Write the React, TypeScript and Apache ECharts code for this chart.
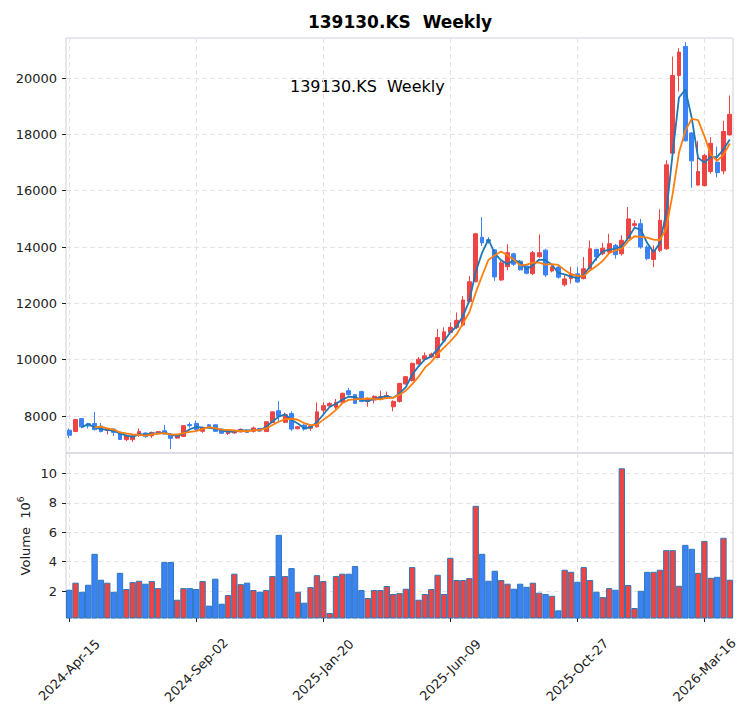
import React, { useEffect, useRef } from 'react';
import * as echarts from 'echarts';

const TITLE = '139130.KS  Weekly';
const START_YEAR = 2024;
const START_MONTH = 3; // April (0-based)
const START_DAY = 15;
const WEEK_COUNT = 105;
const MONTHS = ['Jan', 'Feb', 'Mar', 'Apr', 'May', 'Jun', 'Jul', 'Aug', 'Sep', 'Oct', 'Nov', 'Dec'];

const opens = [
  7500, 7455, 7910, 7730, 7735, 7645, 7490, 7540, 7430, 7165,
  7165, 7320, 7400, 7300, 7380, 7480, 7360, 7220, 7280, 7700,
  7740, 7460, 7690, 7690, 7540, 7380, 7400, 7440, 7510, 7460,
  7560, 7450, 7770, 8190, 7780, 8090, 7550, 7680, 7570, 7620,
  8210, 8360, 8310, 8490, 8900, 8760, 8870, 8520, 8570, 8610,
  8640, 8330, 8520, 9140, 9260, 9850, 10020, 10100, 10080, 10670,
  10970, 11150, 11230, 12070, 12770, 14350, 14260, 13900, 12830, 13300,
  13760, 13500, 13330, 13060, 13660, 13890, 13150, 13290, 12660, 12880,
  13050, 12880, 13230, 13920, 13760, 13820, 14060, 13760, 14300, 14770,
  14830, 14000, 13560, 13880, 13940, 17330, 20090, 21120, 18050, 16200,
  16180, 16680, 17010, 16700, 17980,
];

const closes = [
  7320, 7880, 7620, 7650, 7520, 7455, 7560, 7420, 7170, 7320,
  7300, 7450, 7280, 7420, 7450, 7360, 7210, 7290, 7660, 7660,
  7520, 7600, 7620, 7460, 7390, 7480, 7490, 7530, 7420, 7580,
  7470, 7800, 8150, 7990, 8050, 7540, 7620, 7540, 7650, 8150,
  8370, 8450, 8490, 8810, 8760, 8450, 8520, 8610, 8700, 8690,
  8730, 8520, 9160, 9400, 9870, 10020, 10140, 10200, 10790, 10990,
  11150, 11400, 12120, 12770, 14470, 14150, 14210, 12940, 13440, 13800,
  13390, 13190, 13070, 13800, 13800, 13010, 13300, 12930, 12870, 13050,
  12760, 13230, 13940, 13650, 13960, 14120, 13730, 14240, 15000, 14830,
  14000, 13590, 13880, 14950, 16920, 20090, 20920, 17770, 17060, 16680,
  17250, 17680, 16640, 18100, 18710,
];

const lows = [
  7220, 7430, 7570, 7560, 7490, 7420, 7350, 7300, 7150, 7110,
  7080, 7260, 7230, 7230, 7370, 7350, 6830, 7200, 7270, 7590,
  7480, 7410, 7600, 7440, 7370, 7330, 7380, 7420, 7400, 7420,
  7450, 7440, 7760, 7830, 7750, 7480, 7540, 7480, 7480, 7600,
  8060, 8340, 8250, 8480, 8730, 8440, 8490, 8330, 8450, 8560,
  8600, 8170, 8480, 9120, 9230, 9820, 9990, 10060, 10050, 10620,
  10940, 11090, 11180, 12030, 12750, 14040, 14120, 12800, 12800, 13180,
  13330, 13170, 13030, 13010, 13620, 12940, 13100, 12880, 12600, 12700,
  12730, 12850, 13210, 13510, 13710, 13760, 13590, 13700, 14240, 14650,
  13940, 13530, 13290, 13820, 13900, 17270, 19520, 17750, 16110, 16170,
  16150, 16600, 16470, 16580, 17960,
];

const highs = [
  7560, 7880, 7920, 7760, 8150, 7760, 7580, 7560, 7450, 7330,
  7330, 7560, 7420, 7450, 7470, 7690, 7370, 7300, 7680, 7780,
  7840, 7620, 7720, 7700, 7560, 7500, 7520, 7560, 7530, 7630,
  7580, 7820, 8160, 8530, 8120, 8170, 7640, 7710, 7710, 8490,
  8490, 8490, 8610, 8830, 9000, 8770, 8900, 8660, 8740, 8900,
  8870, 8560, 9180, 9420, 9900, 10100, 10260, 10250, 11090, 11150,
  11320, 11680, 12260, 12970, 14500, 15060, 14350, 13920, 13500, 14100,
  13800, 13540, 13360, 13860, 14450, 13940, 13350, 13320, 13000, 13300,
  13290, 13650, 14230, 13930, 14150, 14470, 14110, 14420, 15420, 14950,
  15000, 14060, 14060, 15340, 17080, 20760, 21060, 21270, 18080, 17770,
  17300, 17900, 17570, 18480, 19380,
];

// weekly volume, in millions of shares
const volumes = [
  2.09, 2.57, 1.95, 2.43, 4.53, 2.77, 2.57, 1.95, 3.24, 2.14,
  2.61, 2.70, 2.50, 2.68, 2.20, 3.97, 3.97, 1.41, 2.20, 2.20,
  2.14, 2.68, 1.01, 2.84, 1.14, 1.73, 3.18, 2.47, 2.57, 2.07,
  1.95, 2.07, 3.02, 5.82, 3.02, 3.56, 1.95, 1.21, 2.27, 3.08,
  2.68, 0.51, 3.02, 3.18, 3.18, 3.70, 2.07, 1.53, 2.07, 2.07,
  2.34, 1.80, 1.86, 2.16, 3.63, 1.41, 1.80, 2.14, 3.11, 1.80,
  4.26, 2.75, 2.75, 2.88, 7.79, 4.53, 2.70, 3.38, 2.75, 2.50,
  2.16, 2.50, 2.29, 2.57, 1.89, 1.80, 1.68, 0.69, 3.45, 3.31,
  2.63, 3.63, 2.75, 1.95, 1.59, 2.20, 2.09, 10.34, 2.41, 0.85,
  2.02, 3.31, 3.31, 3.45, 4.78, 4.78, 2.36, 5.14, 4.87, 3.24,
  5.41, 2.90, 2.97, 5.62, 2.77,
];

const PRICE_TICKS = [8000, 10000, 12000, 14000, 16000, 18000, 20000];
const VOLUME_TICKS = [2, 4, 6, 8, 10];
const PRICE_MIN = 6690;
const PRICE_MAX = 21420;
const VOLUME_MIN = 0.17;
const VOLUME_MAX = 11.38;
const MA_SHORT = 3;
const MA_LONG = 5;

const UP = '#ef4444';
const DOWN = '#3b82f6';
const FONT = '"DejaVu Sans", "Liberation Sans", sans-serif';

function buildDates(): string[] {
  const base = Date.UTC(START_YEAR, START_MONTH, START_DAY);
  const out: string[] = [];
  for (let i = 0; i < WEEK_COUNT; i++) {
    const d = new Date(base + i * 7 * 86400000);
    const dd = String(d.getUTCDate()).padStart(2, '0');
    out.push(`${d.getUTCFullYear()}-${MONTHS[d.getUTCMonth()]}-${dd}`);
  }
  return out;
}

function movingAverage(values: number[], n: number): (number | string)[] {
  return values.map((_, i) => {
    if (i < n - 1) return '-';
    let s = 0;
    for (let k = i - n + 1; k <= i; k++) s += values[k];
    return Math.round((s / n) * 100) / 100;
  });
}

function buildOption() {
  const dates = buildDates();
  const candles = opens.map((o, i) => [o, closes[i], lows[i], highs[i]]);
  const volData = volumes.map((v, i) => ({
    value: v,
    itemStyle: { color: closes[i] >= opens[i] ? UP : DOWN },
  }));
  const gridLine = {
    show: true,
    lineStyle: { color: '#e3e3e3', type: [5, 3], width: 1 },
  };
  const axisText = { fontFamily: FONT, fontSize: 13, color: '#222' };
  const plain = (v: number) => String(v);
  const frame = {
    show: true,
    borderColor: '#cfd1da',
    borderWidth: 1,
    backgroundColor: 'transparent',
  };
  return {
    animation: false,
    backgroundColor: '#ffffff',
    grid: [
      { left: 66, top: 38, width: 667, height: 415, ...frame },
      { left: 66, top: 453, width: 667, height: 165, ...frame },
    ],
    xAxis: [
      {
        type: 'category',
        gridIndex: 0,
        data: dates,
        boundaryGap: true,
        axisLine: { show: false },
        axisTick: { show: false, interval: 19, alignWithLabel: true },
        axisLabel: { show: false, interval: 19 },
        splitLine: { ...gridLine, interval: 19, alignWithLabel: true },
      },
      {
        type: 'category',
        gridIndex: 1,
        data: dates,
        boundaryGap: true,
        axisLine: { show: false },
        axisTick: {
          show: true,
          interval: 19,
          alignWithLabel: true,
          length: 4,
          lineStyle: { color: '#222' },
        },
        axisLabel: {
          ...axisText,
          interval: 19,
          rotate: 45,
          align: 'center',
          verticalAlign: 'middle',
          margin: 52,
        },
        splitLine: { ...gridLine, interval: 19, alignWithLabel: true },
      },
    ],
    yAxis: [
      {
        type: 'value',
        gridIndex: 0,
        min: PRICE_MIN,
        max: PRICE_MAX,
        axisLine: { show: false },
        axisTick: {
          show: true,
          length: 4,
          customValues: PRICE_TICKS,
          lineStyle: { color: '#222' },
        },
        axisLabel: { ...axisText, customValues: PRICE_TICKS, margin: 9, formatter: plain },
        splitLine: gridLine,
      },
      {
        type: 'value',
        gridIndex: 1,
        min: VOLUME_MIN,
        max: VOLUME_MAX,
        axisLine: { show: false },
        axisTick: {
          show: true,
          length: 4,
          customValues: VOLUME_TICKS,
          lineStyle: { color: '#222' },
        },
        axisLabel: { ...axisText, customValues: VOLUME_TICKS, margin: 9, formatter: plain },
        splitLine: gridLine,
      },
    ],
    graphic: [
      {
        type: 'text',
        x: 400,
        y: 22,
        style: {
          text: TITLE,
          font: `bold 17px ${FONT}`,
          fill: '#000',
          align: 'center',
          verticalAlign: 'middle',
        },
      },
      {
        type: 'text',
        x: 290,
        y: 86,
        style: {
          text: TITLE,
          font: `16px ${FONT}`,
          fill: '#000',
          align: 'left',
          verticalAlign: 'middle',
        },
      },
      {
        type: 'text',
        x: 25,
        y: 536,
        rotation: Math.PI / 2,
        style: {
          text: '{a|Volume  10}{b|6}',
          align: 'center',
          verticalAlign: 'middle',
          rich: {
            a: { fontFamily: FONT, fontSize: 13, fill: '#222', lineHeight: 18 },
            b: { fontFamily: FONT, fontSize: 9, fill: '#222', verticalAlign: 'top', lineHeight: 10 },
          },
        },
      },
    ],
    series: [
      {
        type: 'candlestick',
        xAxisIndex: 0,
        yAxisIndex: 0,
        data: candles,
        barWidth: '68%',
        itemStyle: {
          color: UP,
          color0: DOWN,
          borderColor: UP,
          borderColor0: DOWN,
          borderWidth: 1,
        },
      },
      {
        type: 'line',
        xAxisIndex: 0,
        yAxisIndex: 0,
        data: movingAverage(closes, MA_SHORT),
        symbol: 'none',
        lineStyle: { color: '#1f77b4', width: 1.8 },
        z: 3,
      },
      {
        type: 'line',
        xAxisIndex: 0,
        yAxisIndex: 0,
        data: movingAverage(closes, MA_LONG),
        symbol: 'none',
        lineStyle: { color: '#ff7f0e', width: 1.8 },
        z: 3,
      },
      {
        type: 'bar',
        xAxisIndex: 1,
        yAxisIndex: 1,
        data: volData,
        barCategoryGap: '0%',
        itemStyle: { borderColor: '#2f78b8', borderWidth: 1 },
      },
    ],
  };
}

export default function App() {
  const ref = useRef<HTMLDivElement>(null);
  useEffect(() => {
    if (!ref.current) return;
    const chart = echarts.init(ref.current, null, { renderer: 'svg' });
    chart.setOption(buildOption() as any);
    return () => chart.dispose();
  }, []);
  return (
    <div
      ref={ref}
      style={{ position: 'absolute', left: 0, top: 0, width: 753, height: 712 }}
    />
  );
}
